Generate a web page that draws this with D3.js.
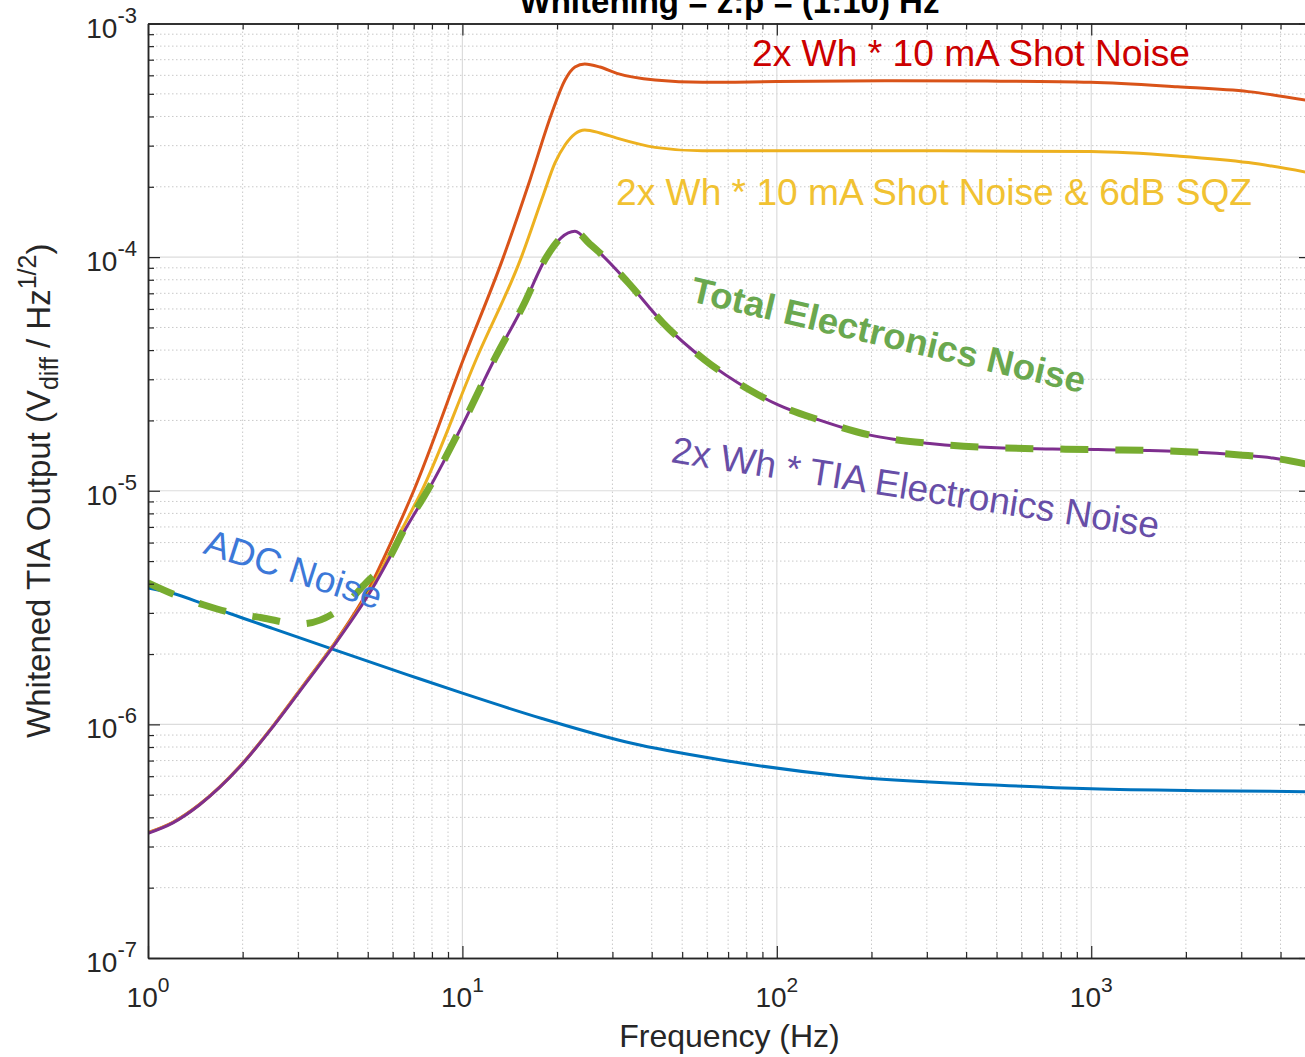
<!DOCTYPE html>
<html>
<head>
<meta charset="utf-8">
<script src="https://cdn.jsdelivr.net/npm/d3@7"></script>
<style>
body { margin: 0; background: #fff; }
svg { display: block; font-family: "Liberation Sans", Arial, Helvetica, sans-serif; }
</style>
</head>
<body>
<script>
// values (frequency in Hz, amplitude in V/rtHz)
var adcF = [1, 1.19, 1.5, 1.81, 2.5, 3.78, 6.7, 10, 17.9, 34.3, 66, 159, 512, 1000, 2210, 5000];
var adcV = [3.84e-6, 3.65e-6, 3.28e-6, 2.99e-6, 2.57e-6, 2.12e-6, 1.63e-6, 1.36e-6, 1.06e-6, 8.32e-7, 7.06e-7, 6.03e-7, 5.49e-7, 5.30e-7, 5.20e-7, 5.15e-7];

var shotF = [1, 1.2, 1.46, 1.96, 2.5, 3.2, 3.85, 5.0, 6.18, 7.0, 10.1, 13.5, 16.4, 19.2, 21.2, 22.8, 24.5, 27.4, 31, 41, 58, 100, 233, 467, 996, 1880, 3160, 5000];
var shotV = [3.44e-7, 3.81e-7, 4.55e-7, 6.62e-7, 9.86e-7, 1.54e-6, 2.15e-6, 3.73e-6, 6.81e-6, 1.0e-5, 3.69e-5, 1.0e-4, 2.14e-4, 4.10e-4, 5.73e-4, 6.51e-4, 6.71e-4, 6.51e-4, 6.12e-4, 5.73e-4, 5.60e-4, 5.64e-4, 5.69e-4, 5.67e-4, 5.60e-4, 5.36e-4, 5.11e-4, 4.66e-4];

var sqzF = [1, 1.2, 1.46, 1.96, 2.5, 3.2, 3.86, 5.08, 6.41, 7.43, 11.1, 15.4, 18.1, 19.7, 21.2, 22.8, 24.5, 27.4, 31, 41, 58, 100, 330, 996, 1880, 3160, 5000];
var sqzV = [3.43e-7, 3.80e-7, 4.54e-7, 6.60e-7, 9.83e-7, 1.53e-6, 2.15e-6, 3.73e-6, 6.81e-6, 1.0e-5, 3.69e-5, 1.0e-4, 1.85e-4, 2.53e-4, 3.02e-4, 3.37e-4, 3.50e-4, 3.40e-4, 3.23e-4, 2.95e-4, 2.85e-4, 2.85e-4, 2.85e-4, 2.83e-4, 2.71e-4, 2.54e-4, 2.29e-4];

var tiaF = [1, 1.2, 1.46, 1.96, 2.5, 3.2, 3.88, 5.12, 6.57, 7.77, 10, 12.7, 15.6, 18.5, 20.6, 22.8, 25.4, 27, 33.8, 43.5, 59, 82, 101, 136, 198, 312, 479, 754, 1050, 2010, 3030, 3780, 5000];
var tiaV = [3.42e-7, 3.79e-7, 4.53e-7, 6.58e-7, 9.79e-7, 1.52e-6, 2.15e-6, 3.73e-6, 6.81e-6, 1.0e-5, 1.91e-5, 3.69e-5, 6.18e-5, 1.0e-4, 1.21e-4, 1.29e-4, 1.14e-4, 1.06e-4, 7.73e-5, 5.22e-5, 3.63e-5, 2.70e-5, 2.33e-5, 2.01e-5, 1.73e-5, 1.59e-5, 1.53e-5, 1.51e-5, 1.50e-5, 1.47e-5, 1.42e-5, 1.38e-5, 1.29e-5];

var totalF = [1, 1.22, 1.5, 1.85, 2.3, 3.04, 4.17, 4.97, 5.75, 6.57, 7.77, 10, 12.7, 15.6, 18.5, 20.6, 22.8, 25.4, 27, 33.8, 43.5, 59, 82, 101, 136, 198, 312, 479, 754, 1050, 2010, 3030, 3780, 5000];
var totalV = [4.03e-6, 3.58e-6, 3.25e-6, 3.00e-6, 2.86e-6, 2.69e-6, 3.19e-6, 4.07e-6, 4.96e-6, 6.95e-6, 1.01e-5, 1.92e-5, 3.70e-5, 6.19e-5, 1.0e-4, 1.21e-4, 1.29e-4, 1.14e-4, 1.06e-4, 7.73e-5, 5.22e-5, 3.63e-5, 2.70e-5, 2.33e-5, 2.01e-5, 1.73e-5, 1.59e-5, 1.53e-5, 1.51e-5, 1.50e-5, 1.47e-5, 1.42e-5, 1.38e-5, 1.29e-5];

var xMajor = [1, 10, 100, 1000];
var yMajor = [1e-7, 1e-6, 1e-5, 1e-4, 1e-3];

var svgWidth = 1305;
var svgHeight = 1057;
var box = {left: 148, right: 1311, top: 23.5, bottom: 958};
var axisColor = "#262626";

var svg = d3.select("body").append("svg")
  .attr("width", svgWidth)
  .attr("height", svgHeight);

var x = d3.scaleLog().domain([1, 5000]).range([box.left, box.right]);
var y = d3.scaleLog().domain([1e-7, 1e-3]).range([box.bottom, box.top]);

// minor tick values, 2..9 in every decade
var xMinor = [];
xMajor.forEach(function(d) {
  for (var k = 2; k <= 9; k++) if (d * k <= 5000) xMinor.push(d * k);
});
var yMinor = [];
yMajor.slice(0, 4).forEach(function(d) {
  for (var k = 2; k <= 9; k++) yMinor.push(d * k);
});

// grid
var grid = svg.append("g").attr("class", "grid");
grid.selectAll(".xminor").data(xMinor).enter().append("line")
  .attr("x1", x).attr("x2", x)
  .attr("y1", box.top).attr("y2", box.bottom)
  .attr("stroke", "#c9c9c9").attr("stroke-width", 1).attr("stroke-dasharray", "1.5,2.5");
grid.selectAll(".yminor").data(yMinor).enter().append("line")
  .attr("y1", y).attr("y2", y)
  .attr("x1", box.left).attr("x2", box.right)
  .attr("stroke", "#c9c9c9").attr("stroke-width", 1).attr("stroke-dasharray", "1.5,2.5");
grid.selectAll(".xmajor").data(xMajor.slice(1)).enter().append("line")
  .attr("x1", x).attr("x2", x)
  .attr("y1", box.top).attr("y2", box.bottom)
  .attr("stroke", "#dcdcdc").attr("stroke-width", 1.2);
grid.selectAll(".ymajor").data(yMajor.slice(1, 4)).enter().append("line")
  .attr("y1", y).attr("y2", y)
  .attr("x1", box.left).attr("x2", box.right)
  .attr("stroke", "#dcdcdc").attr("stroke-width", 1.2);

// curves
svg.append("clipPath").attr("id", "plotclip").append("rect")
  .attr("x", box.left).attr("y", box.top)
  .attr("width", box.right - box.left).attr("height", box.bottom - box.top);

var line = d3.line()
  .x(function(d) { return x(d[0]); })
  .y(function(d) { return y(d[1]); })
  .curve(d3.curveMonotoneX);

function pairs(f, v) { return f.map(function(d, i) { return [d, v[i]]; }); }

var series = [
  {pts: pairs(adcF, adcV), color: "#0072BD", w: 3},
  {pts: pairs(shotF, shotV), color: "#D95319", w: 3},
  {pts: pairs(sqzF, sqzV), color: "#EDB120", w: 3},
  {pts: pairs(tiaF, tiaV), color: "#7E2F8E", w: 3},
  {pts: pairs(totalF, totalV), color: "#77AC30", w: 7, dash: "28,27"}
];

var curves = svg.append("g").attr("clip-path", "url(#plotclip)");
series.forEach(function(s) {
  curves.append("path")
    .attr("d", line(s.pts))
    .attr("fill", "none")
    .attr("stroke", s.color)
    .attr("stroke-width", s.w)
    .attr("stroke-dasharray", s.dash || null);
});

// axes (ticks pointing inward like matlab)
function drawAxis(axis, tx, ty) {
  var g = svg.append("g").attr("transform", "translate(" + tx + "," + ty + ")").call(axis);
  g.selectAll("line").attr("stroke", axisColor).attr("stroke-width", 1.2);
  g.select(".domain").attr("stroke", axisColor).attr("stroke-width", 1.5);
  return g;
}
drawAxis(d3.axisBottom(x).tickValues(xMajor).tickSizeInner(-12).tickSizeOuter(0).tickFormat(""), 0, box.bottom);
drawAxis(d3.axisBottom(x).tickValues(xMinor).tickSizeInner(-6).tickSizeOuter(0).tickFormat(""), 0, box.bottom);
drawAxis(d3.axisTop(x).tickValues(xMajor).tickSizeInner(-12).tickSizeOuter(0).tickFormat(""), 0, box.top);
drawAxis(d3.axisTop(x).tickValues(xMinor).tickSizeInner(-6).tickSizeOuter(0).tickFormat(""), 0, box.top);
drawAxis(d3.axisLeft(y).tickValues(yMajor).tickSizeInner(-12).tickSizeOuter(0).tickFormat(""), box.left, 0);
drawAxis(d3.axisLeft(y).tickValues(yMinor).tickSizeInner(-6).tickSizeOuter(0).tickFormat(""), box.left, 0);
drawAxis(d3.axisRight(y).tickValues(yMajor).tickSizeInner(-12).tickSizeOuter(0).tickFormat(""), box.right, 0);
drawAxis(d3.axisRight(y).tickValues(yMinor).tickSizeInner(-6).tickSizeOuter(0).tickFormat(""), box.right, 0);

// tick labels as 10^n
svg.selectAll(".xlabel").data(xMajor).enter().append("text")
  .attr("x", x).attr("y", 1007)
  .attr("text-anchor", "middle")
  .attr("font-size", 28).attr("fill", axisColor)
  .each(function(d) {
    var t = d3.select(this);
    t.append("tspan").text("10");
    t.append("tspan").attr("dy", -15).attr("font-size", 21).text(Math.round(Math.log10(d)));
  });

svg.selectAll(".ylabel").data(yMajor).enter().append("text")
  .attr("x", 137).attr("y", function(d) { return y(d) + 14; })
  .attr("text-anchor", "end")
  .attr("font-size", 28).attr("fill", axisColor)
  .each(function(d) {
    var t = d3.select(this);
    t.append("tspan").text("10");
    t.append("tspan").attr("dy", -15).attr("font-size", 22).text(Math.round(Math.log10(d)));
  });

// axis titles
svg.append("text")
  .attr("x", (box.left + box.right) / 2).attr("y", 1047)
  .attr("text-anchor", "middle")
  .attr("font-size", 32).attr("fill", axisColor)
  .text("Frequency (Hz)");

var yTitle = svg.append("text")
  .attr("transform", "translate(50," + (box.top + box.bottom) / 2 + ") rotate(-90)")
  .attr("text-anchor", "middle")
  .attr("font-size", 33).attr("fill", axisColor);
yTitle.append("tspan").text("Whitened TIA Output (V");
yTitle.append("tspan").attr("font-size", 25).attr("dy", 8).text("diff");
yTitle.append("tspan").attr("dy", -8).text(" / Hz");
yTitle.append("tspan").attr("font-size", 25).attr("dy", -14).text("1/2");
yTitle.append("tspan").attr("dy", 14).text(")");

svg.append("text")
  .attr("x", (box.left + box.right) / 2).attr("y", 13)
  .attr("text-anchor", "middle")
  .attr("font-size", 33).attr("font-weight", "bold").attr("fill", "#000")
  .text("Whitening = z:p = (1:10) Hz");

// annotations
var notes = [
  {text: "2x Wh * 10 mA Shot Noise", x: 752, y: 66, angle: 0, color: "#CC0000", len: 438},
  {text: "2x Wh * 10 mA Shot Noise & 6dB SQZ", x: 616, y: 205, angle: 0, color: "#F1C232", len: 636},
  {text: "Total Electronics Noise", x: 689, y: 301, angle: 13.2, color: "#6AA84F", len: 404, bold: true},
  {text: "2x Wh * TIA Electronics Noise", x: 670, y: 462, angle: 8.9, color: "#674EA7", len: 493},
  {text: "ADC Noise", x: 202, y: 553, angle: 17.9, color: "#3C78D8", len: 184}
];
notes.forEach(function(n) {
  svg.append("text")
    .attr("transform", "translate(" + n.x + "," + n.y + ") rotate(" + n.angle + ")")
    .attr("font-size", n.bold ? 36 : 37)
    .attr("font-weight", n.bold ? "bold" : "normal")
    .attr("fill", n.color)
    .attr("textLength", n.len)
    .attr("lengthAdjust", "spacingAndGlyphs")
    .text(n.text);
});
</script>
</body>
</html>
